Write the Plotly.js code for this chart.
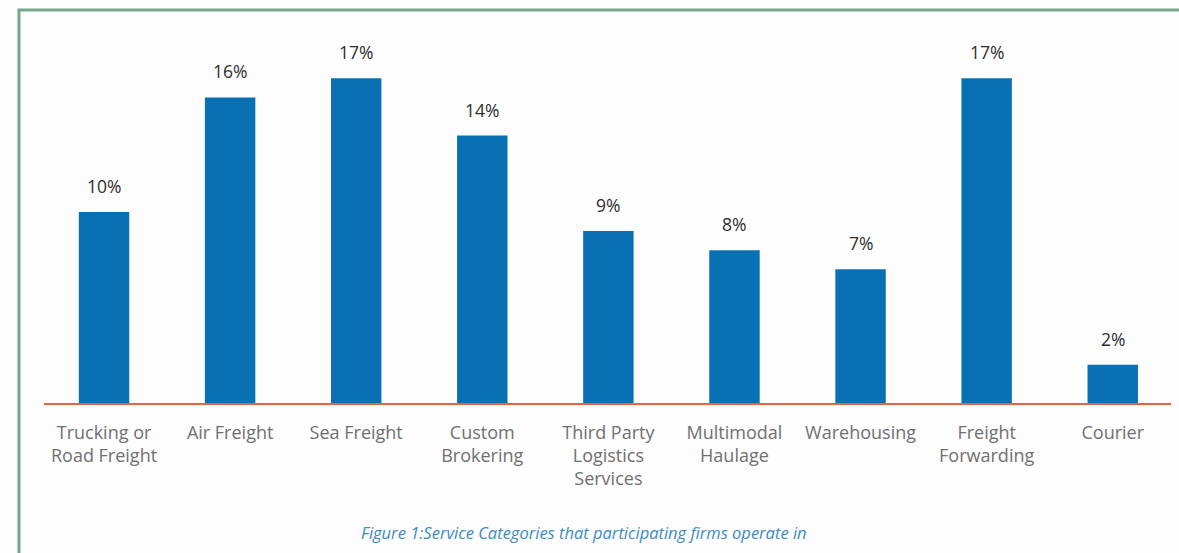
<!DOCTYPE html>
<html>
<head>
<meta charset="utf-8">
<script src="https://cdn.plot.ly/plotly-3.0.1.min.js"></script>
<style>html,body{margin:0;padding:0;background:#fdfdfd;}#chart{width:1179px;height:553px;}</style>
</head>
<body>
<div id="chart"></div>
<script>
const categories = ["Trucking or<br>Road Freight", "Air Freight", "Sea Freight", "Custom<br>Brokering",
  "Third Party<br>Logistics<br>Services", "Multimodal<br>Haulage", "Warehousing", "Freight<br>Forwarding", "Courier"];
const shares = [10, 16, 17, 14, 9, 8, 7, 17, 2];
const shareLabels = ["10%", "16%", "17%", "14%", "9%", "8%", "7%", "17%", "2%"];
const caption = "Figure 1:Service Categories that participating firms operate in";

const idx = categories.map((c, i) => i);

const trace = {
  type: "bar",
  x: idx,
  y: shares,
  width: 0.4,
  marker: {color: "#0a70b4"},
  hoverinfo: "skip"
};

const annotations = idx.map(i => ({
  x: i, y: shares[i], xref: "x", yref: "y",
  text: shareLabels[i], showarrow: false,
  yanchor: "bottom", yshift: 12,
  font: {family: "Open Sans", size: 17.5, color: "#2e2e2e"}
}));
annotations.push({
  xref: "paper", yref: "paper", x: 0.479, y: -0.3377,
  xanchor: "center", yanchor: "middle", showarrow: false,
  text: "<i>" + caption + "</i>",
  font: {family: "Open Sans", size: 16.5, color: "#3a8cc2"}
});

const layout = {
  width: 1179, height: 553,
  margin: {l: 44, r: 8, t: 21, b: 150},
  paper_bgcolor: "#fdfdfd", plot_bgcolor: "#fdfdfd",
  showlegend: false,
  xaxis: {
    range: [-0.476, 8.462],
    tickvals: idx, ticktext: categories,
    showline: true, linecolor: "#e8643f", linewidth: 2,
    showgrid: false, zeroline: false, ticks: "",
    ticklabelstandoff: 12,
    tickfont: {family: "Open Sans", size: 18, color: "#707070"},
    fixedrange: true
  },
  yaxis: {
    range: [0, 20], visible: false, showgrid: false, zeroline: false, fixedrange: true
  },
  annotations: annotations,
  shapes: [{
    type: "path", xref: "paper", yref: "paper",
    path: "M -0.0222,-0.5 L -0.0222,1.0288 L 1.05,1.0288",
    line: {color: "#74a98a", width: 3}
  }]
};

Plotly.newPlot("chart", [trace], layout, {displayModeBar: false, staticPlot: true});
</script>
</body>
</html>
